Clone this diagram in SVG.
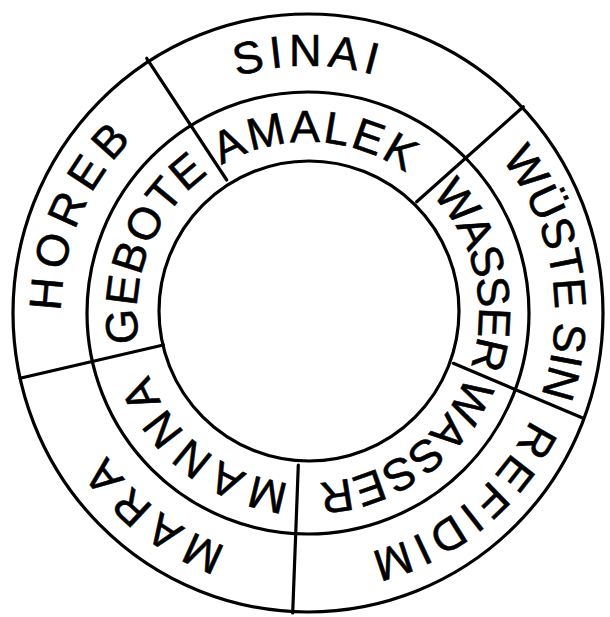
<svg xmlns="http://www.w3.org/2000/svg" xmlns:xlink="http://www.w3.org/1999/xlink" width="610" height="617" viewBox="0 0 610 617">
  <style>
    .ring { fill: none; stroke: #000; stroke-width: 3.2; }
    .div { stroke: #000; stroke-width: 3.2; stroke-linecap: round; }
    .lbl { font-family: "Liberation Sans", Arial, sans-serif; fill: #000; stroke: #000; stroke-width: 0.6; text-anchor: middle; }
    .outer { font-size: 45px; }
    .mid { font-size: 45px; }
  </style>
  <defs>
    <path id="p-sinai" d="M61.94,291.47 A247,247 0 0 1 554.06,291.47"/>
    <path id="p-horeb" d="M190.90,530.48 A247,247 0 0 1 385.56,78.49"/>
    <path id="p-wueste" d="M288.19,66.80 A247,247 0 0 1 370.26,552.02"/>
    <path id="p-refidim" d="M512.77,174.88 A247,247 0 0 1 130.32,484.58"/>
    <path id="p-mara" d="M503.17,464.39 A247,247 0 0 1 112.83,161.61"/>
    <path id="p-amalek" d="M138.54,290.09 A171,171 0 0 1 478.86,306.14"/>
    <path id="p-gebote" d="M229.31,464.82 A171,171 0 0 1 359.14,149.82"/>
    <path id="p-manna" d="M441.83,419.45 A171,171 0 0 1 174.17,206.55"/>
    <path id="p-wasser1" d="M269.53,146.38 A171,171 0 0 1 346.47,479.62"/>
    <path id="p-wasser2" d="M446.34,212.49 A171,171 0 0 1 169.66,413.51"/>
  </defs>
  <rect width="610" height="617" fill="#fff"/>
  <g id="rings">
    <ellipse class="ring" cx="308" cy="313" rx="295" ry="299"/>
    <circle class="ring" cx="308" cy="313" r="221"/>
    <circle class="ring" cx="309" cy="311" r="150"/>
  </g>
  <g id="connectors">
    <line class="div" x1="146.7" y1="58.3" x2="226.7" y2="180"/>
    <line class="div" x1="523.3" y1="106.7" x2="416.7" y2="201.7"/>
    <line class="div" x1="583.3" y1="418.3" x2="453.3" y2="363.3"/>
    <line class="div" x1="292.7" y1="613" x2="298.3" y2="465"/>
    <line class="div" x1="20" y1="378.3" x2="163.3" y2="345"/>
  </g>
  <g id="sinai"><text class="lbl outer" letter-spacing="5.5"><textPath href="#p-sinai" startOffset="50%">SINAI</textPath></text></g>
  <g id="horeb"><text class="lbl outer" letter-spacing="7.5"><textPath href="#p-horeb" startOffset="50%">HOREB</textPath></text></g>
  <g id="wueste-sin"><text class="lbl outer" letter-spacing="0"><textPath href="#p-wueste" startOffset="50%">WÜSTE SIN</textPath></text></g>
  <g id="refidim"><text class="lbl outer" letter-spacing="5"><textPath href="#p-refidim" startOffset="50%">REFIDIM</textPath></text></g>
  <g id="mara"><text class="lbl outer" letter-spacing="7.5"><textPath href="#p-mara" startOffset="50%">MARA</textPath></text></g>
  <g id="amalek"><text class="lbl mid" letter-spacing="2.4"><textPath href="#p-amalek" startOffset="50%">AMALEK</textPath></text></g>
  <g id="gebote"><text class="lbl mid" letter-spacing="1"><textPath href="#p-gebote" startOffset="50%">GEBOTE</textPath></text></g>
  <g id="manna"><text class="lbl mid" letter-spacing="6"><textPath href="#p-manna" startOffset="50%">MANNA</textPath></text></g>
  <g id="wasser-1"><text class="lbl mid" letter-spacing="-1.4"><textPath href="#p-wasser1" startOffset="50%">WASSER</textPath></text></g>
  <g id="wasser-2"><text class="lbl mid" letter-spacing="0"><textPath href="#p-wasser2" startOffset="50%">WASSER</textPath></text></g>
</svg>
